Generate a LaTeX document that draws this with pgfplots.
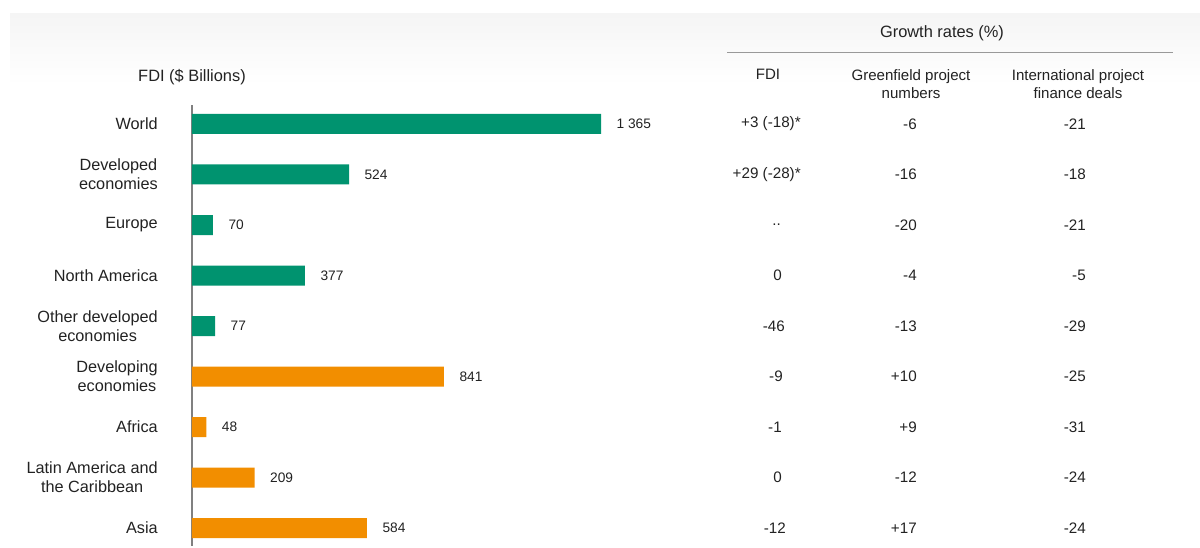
\documentclass[border=0pt]{standalone}
\usepackage{pgfplots}
\pgfplotsset{compat=1.18}
\usepackage{pgfplotstable}
\usepackage{fontspec}
\setmainfont{Liberation Sans}
\definecolor{fdigreen}{RGB}{0,147,111}
\definecolor{fdiorange}{RGB}{242,142,0}
\definecolor{txt}{RGB}{34,34,34}

\pgfplotstableread[col sep=comma]{
y,v,lab,fdi,fdix,gf,ipf
0,1365,1 365,+3 (-18)*,801,-6,-21
1,524,524,+29 (-28)*,801,-16,-18
2,70,70,..,781,-20,-21
3,377,377,0,782,-4,-5
4,77,77,-46,785,-13,-29
}\developed
\pgfplotstableread[col sep=comma]{
y,v,lab,fdi,fdix,gf,ipf
5,841,841,-9,783,+10,-25
6,48,48,-1,782,+9,-31
7,209,209,0,782,-12,-24
8,584,584,-12,786,+17,-24
}\developing

\begin{document}
\begin{tikzpicture}[x=0.75pt,y=-0.75pt]
\path (0,0) rectangle (1200,547);
\shade[top color=black!4, bottom color=white] (10,13) rectangle (1200,85);
\coordinate (AX) at (192,546);
\begin{axis}[
  at={(AX)}, anchor=south west,
  scale only axis, width=306.75pt, height=330.75pt,
  xmin=0, xmax=1365,
  ymin=-0.376, ymax=8.356, y dir=reverse,
  clip=false,
  axis x line=none,
  axis y line*=left,
  axis line style={draw=black!50, line width=1.1pt},
  ytick={0,...,8},
  major tick length=0pt,
  yticklabels={World, {Developed\\economies}, Europe, North America, {Other developed\\economies}, {Developing\\economies}, Africa, {Latin America and\\the Caribbean}, Asia},
  yticklabel style={anchor=east, inner sep=0pt, xshift=-25.5pt, align=center, text=txt, font=\fontsize{12.2}{14.3}\selectfont},
  xticklabels={},
]
\addplot[xbar, bar width=15pt, bar shift=0pt, fill=fdigreen, draw=none,
  nodes near coords, point meta=explicit symbolic,
  every node near coord/.append style={anchor=west, inner sep=0pt, xshift=11.5pt, text=txt, font=\fontsize{10.3}{12}\selectfont}]
  table[x=v, y=y, meta=lab] {\developed};
\addplot[xbar, bar width=15pt, bar shift=0pt, fill=fdiorange, draw=none,
  nodes near coords, point meta=explicit symbolic,
  every node near coord/.append style={anchor=west, inner sep=0pt, xshift=11.5pt, text=txt, font=\fontsize{10.3}{12}\selectfont}]
  table[x=v, y=y, meta=lab] {\developing};
% growth-rate columns
\pgfplotsset{tabcol/.style={draw=none, mark=none, nodes near coords, point meta=explicit symbolic,
  every node near coord/.append style={anchor=east, inner sep=0pt, text=txt, font=\fontsize{11.4}{13}\selectfont}}}
\addplot[tabcol] table[x expr={(\thisrow{fdix}-192)*1365/409}, y=y, meta=fdi] {\developed};
\addplot[tabcol] table[x expr={(\thisrow{fdix}-192)*1365/409}, y=y, meta=fdi] {\developing};
\addplot[tabcol] table[x expr={(917-192)*1365/409}, y=y, meta=gf] {\developed};
\addplot[tabcol] table[x expr={(917-192)*1365/409}, y=y, meta=gf] {\developing};
\addplot[tabcol] table[x expr={(1086-192)*1365/409}, y=y, meta=ipf] {\developed};
\addplot[tabcol] table[x expr={(1086-192)*1365/409}, y=y, meta=ipf] {\developing};
\end{axis}
% headers
\node[text=txt, font=\fontsize{12.3}{14}\selectfont] at (192,77) {FDI (\$ Billions)};
\node[text=txt, font=\fontsize{12.3}{14}\selectfont] at (942,33) {Growth rates (\%)};
\draw[black!40, line width=1.4pt] (727,52.5) -- (1173,52.5);
\node[text=txt, font=\fontsize{11.3}{13.5}\selectfont] at (768,74) {FDI};
\node[text=txt, align=center, font=\fontsize{11.3}{13.5}\selectfont] at (911,84) {Greenfield project\\numbers};
\node[text=txt, align=center, font=\fontsize{11.3}{13.5}\selectfont] at (1078,84) {International project\\finance deals};
\end{tikzpicture}
\end{document}
